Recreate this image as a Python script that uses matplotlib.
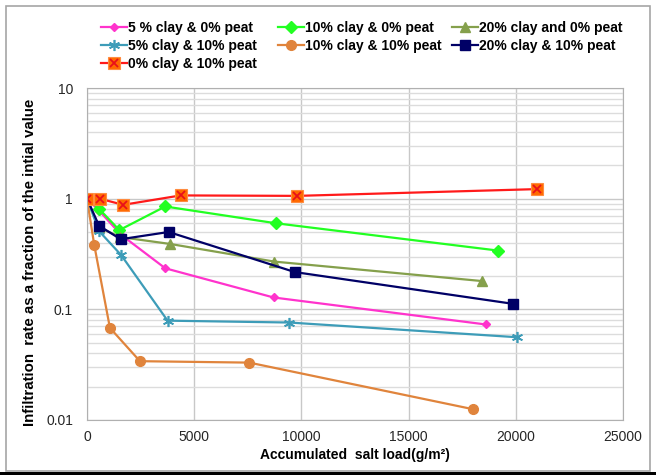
import numpy as np
import matplotlib
matplotlib.use('Agg')
import matplotlib.pyplot as plt
from matplotlib.patches import Rectangle

plt.rcParams['font.family'] = ['Liberation Sans', 'DejaVu Sans']

# accumulated salt load (g/m2) and relative infiltration rate per soil mix
x_5c0p = [0, 560, 1600, 3650, 8700, 18600]
y_5c0p = [1, 0.78, 0.47, 0.235, 0.128, 0.073]

x_10c0p = [0, 560, 1510, 3650, 8800, 19150]
y_10c0p = [1, 0.81, 0.52, 0.85, 0.60, 0.34]

x_20c0p = [0, 560, 1550, 3870, 8740, 18440]
y_20c0p = [1, 0.55, 0.45, 0.39, 0.27, 0.18]

x_5c10p = [0, 560, 1590, 3760, 9440, 20040]
y_5c10p = [1, 0.51, 0.31, 0.079, 0.076, 0.056]

x_10c10p = [0, 340, 1070, 2470, 7570, 18020]
y_10c10p = [1, 0.38, 0.068, 0.034, 0.033, 0.0125]

x_20c10p = [0, 560, 1570, 3810, 9700, 19890]
y_20c10p = [1, 0.57, 0.43, 0.50, 0.217, 0.112]

x_0c10p = [0, 590, 1690, 4370, 9810, 20970]
y_0c10p = [1, 1.0, 0.88, 1.07, 1.06, 1.22]

fig = plt.figure(figsize=(6.56, 4.75), dpi=100)
ax = fig.add_axes([0.1326, 0.1158, 0.8171, 0.6989])

# outer frame like the exported chart
fig.patches.append(Rectangle((6/656, 4/475), 644/656, 465/475, transform=fig.transFigure,
                             fill=False, edgecolor='#a6a6a6', lw=1.2))
fig.patches.append(Rectangle((0, 0), 1, 3/475, transform=fig.transFigure,
                             facecolor='black', edgecolor='none'))

h_pink, = ax.plot(x_5c0p, y_5c0p, color='#ff33cc', lw=1.6, marker='D', ms=4)
h_green, = ax.plot(x_10c0p, y_10c0p, color='#22ff22', lw=1.6, marker='D', ms=6)
h_olive, = ax.plot(x_20c0p, y_20c0p, color='#85a04c', lw=1.6, marker='^', ms=7)
h_teal, = ax.plot(x_5c10p, y_5c10p, color='#3d9cb8', lw=1.6, marker=(6, 2, 0), ms=8,
                  mew=1.2)
h_orange, = ax.plot(x_10c10p, y_10c10p, color='#e0843c', lw=1.6, marker='o', ms=7)
h_navy, = ax.plot(x_20c10p, y_20c10p, color='#000066', lw=1.6, marker='s', ms=7)
h_red, = ax.plot(x_0c10p, y_0c10p, color='#ff1a1a', lw=1.6, marker='s', ms=8,
                 mfc='#ff6a00', mec='#ff8c40', mew=0.8)
h_redx, = ax.plot(x_0c10p, y_0c10p, ls='none', marker='x', ms=6, mec='#e8101a', mew=1.3)

ax.set_yscale('log')
ax.set_xlim(0, 25000)
ax.set_ylim(0.01, 10)
ax.set_xticks(np.arange(0, 25001, 5000))
ax.set_yticks([0.01, 0.1, 1, 10])
ax.set_yticklabels(['0.01', '0.1', '1', '10'])
ax.grid(True, which='major', color='#c8c8c8', lw=1.0)
ax.grid(True, which='minor', axis='y', color='#dcdcdc', lw=1.0)
ax.tick_params(which='both', length=0, labelsize=10, colors='#262626')
ax.tick_params(axis='y', pad=10)
ax.tick_params(axis='x', pad=7)
for s in ax.spines.values():
    s.set_color('#b0b0b0')
ax.set_axisbelow(True)

ax.set_xlabel('Accumulated  salt load(g/m\u00b2)', fontsize=10, fontweight='bold', labelpad=3)
ax.set_ylabel('Infiltration  rate as a fraction of the intial value', fontsize=10.8,
              fontweight='bold')
ax.yaxis.set_label_coords(-0.093, 0.476)

# legend laid out in fixed columns, like the spreadsheet legend
columns = [
    ([h_pink, h_teal, (h_red, h_redx)],
     ['5 % clay & 0% peat', '5% clay & 10% peat', '0% clay & 10% peat'], 95),
    ([h_green, h_orange], ['10% clay & 0% peat', '10% clay & 10% peat'], 272),
    ([h_olive, h_navy], ['20% clay and 0% peat', '20% clay & 10% peat'], 446),
]
for hs, ls, x0 in columns:
    leg = fig.legend(hs, ls, loc='upper left', bbox_to_anchor=(x0/656, 1 - 15/475),
                     frameon=False, handlelength=1.9, handletextpad=0.05,
                     labelspacing=0.3, borderaxespad=0,
                     prop={'size': 10, 'weight': 'bold'})

fig.savefig('out.png', dpi=100)
